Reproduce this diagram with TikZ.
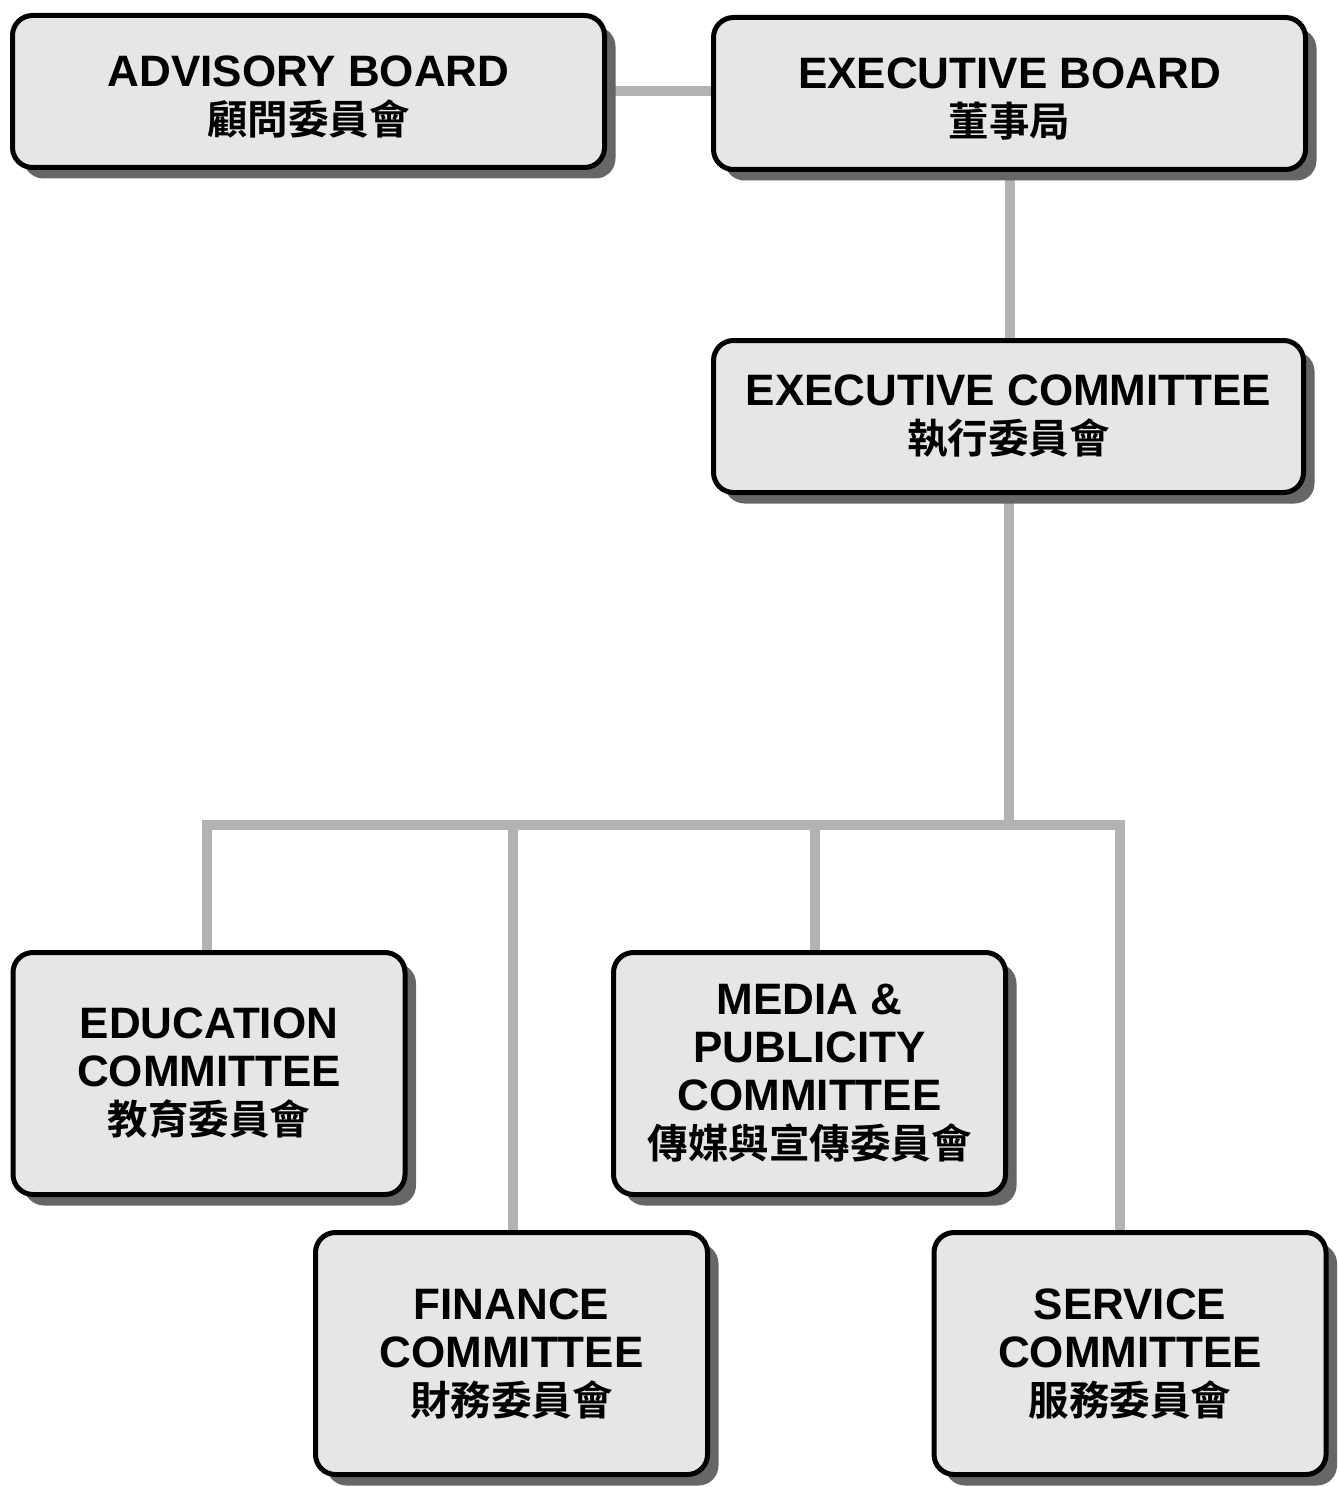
\documentclass[tikz,border=0pt]{standalone}
\usepackage{fontspec}
\setmainfont{Liberation Sans}
\newfontfamily\cjk{Noto Sans CJK TC}[UprightFont=* Bold, BoldFont=* Bold]
\usetikzlibrary{shadows,backgrounds}
\definecolor{boxfill}{HTML}{E6E6E6}
\definecolor{linegray}{HTML}{B3B3B3}
\definecolor{shadowgray}{HTML}{666666}
\newcommand{\zh}[1]{{\cjk\fontsize{40.5}{48}\selectfont #1}}
\newcommand{\lowerstrut}{\rule{0pt}{42pt}}
\begin{document}
\begin{tikzpicture}[x=1pt,y=-1pt,
  orgbox/.style={draw=black, line width=5pt, fill=boxfill, rounded corners=20pt,
    align=center, inner sep=0pt,
    font=\bfseries\fontsize{44}{48}\selectfont,
    drop shadow={shadow xshift=11pt, shadow yshift=-11pt, fill=shadowgray, opacity=1}},
  wide/.style={minimum width=592pt, minimum height=152pt},
  tall/.style={minimum width=392pt, minimum height=242pt},
  conn/.style={draw=linegray, line width=10pt}]
\useasboundingbox (0,0) rectangle (1338,1487);

\node[orgbox, wide] (adv) at (308.5,91.5) {\lowerstrut ADVISORY BOARD\\\zh{顧問委員會}};
\node[orgbox, wide] (eb) at (1009.5,93.5) {\lowerstrut EXECUTIVE BOARD\\\zh{董事局}};
\node[orgbox, wide, minimum width=590pt] (ec) at (1008.5,416.5) {EXECUTIVE COMMITTEE\\\zh{執行委員會}};
\node[orgbox, tall] (edu) at (209,1073.5) {EDUCATION\\COMMITTEE\\\zh{教育委員會}};
\node[orgbox, tall] (med) at (809.5,1073.5) {MEDIA \&\\PUBLICITY\\COMMITTEE\\\zh{傳媒與宣傳委員會}};
\node[orgbox, tall] (fin) at (511.5,1353.5) {FINANCE\\COMMITTEE\\\zh{財務委員會}};
\node[orgbox, tall] (ser) at (1130,1353.5) {SERVICE\\COMMITTEE\\\zh{服務委員會}};

\coordinate (busL) at (202,825);
\coordinate (busR) at (1125,825);
\coordinate (dEdu) at (207,825);
\coordinate (dFin) at (513,825);
\coordinate (dMed) at (815,825);
\coordinate (dSer) at (1120,825);

\begin{scope}[on background layer]
\fill[white] (0,0) rectangle (1338,1487);
\draw[conn] (adv.east) -- (adv.east -| eb.west);
\draw[conn] (eb.south) -- (eb.south |- ec.north);
\draw[conn] (ec.south) -- (ec.south |- busL);
\draw[conn] (busL) -- (busR);
\draw[conn] (dEdu) -- (dEdu |- edu.north);
\draw[conn] (dFin) -- (dFin |- fin.north);
\draw[conn] (dMed) -- (dMed |- med.north);
\draw[conn] (dSer) -- (dSer |- ser.north);
\end{scope}
\end{tikzpicture}
\end{document}
